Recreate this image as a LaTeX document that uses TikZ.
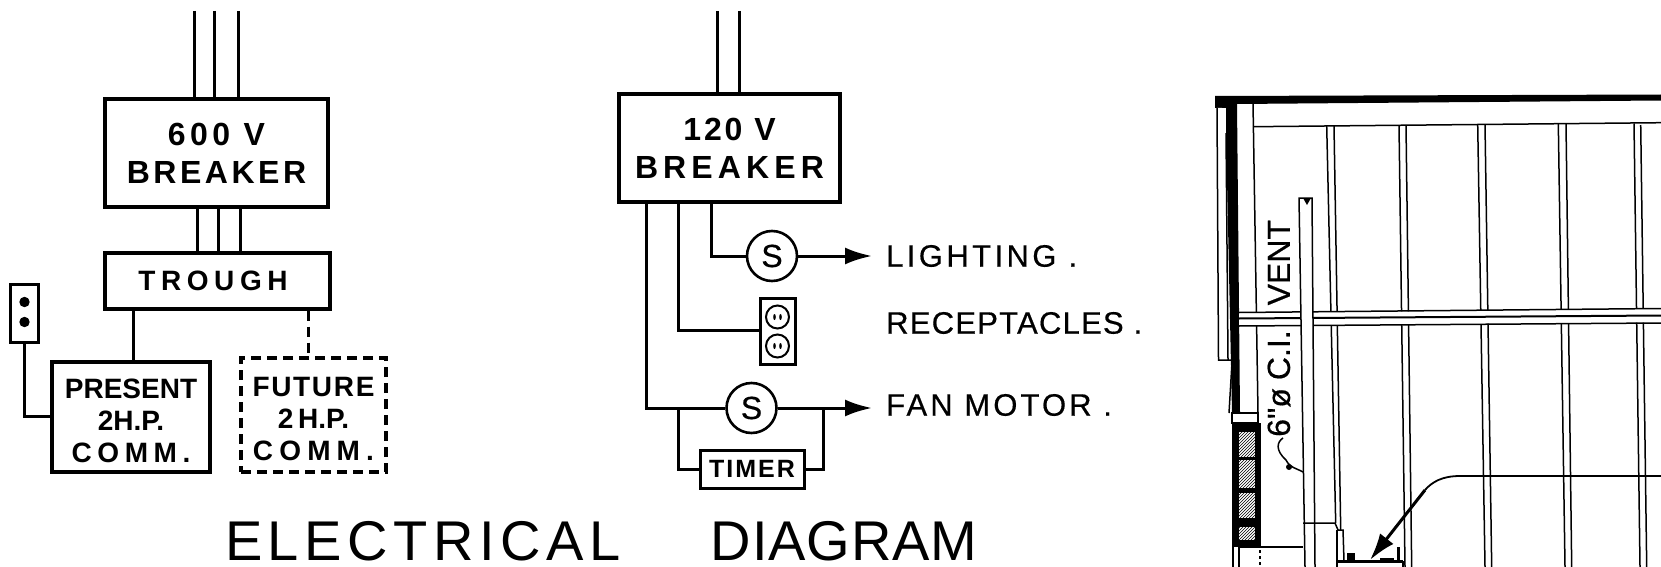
\documentclass[tikz,border=0pt]{standalone}
\usepackage{fontspec}
\usepackage{tikz}
\usetikzlibrary{positioning,arrows.meta,patterns}
\setmainfont{Liberation Sans}
\newfontfamily\tagfont[FakeBold=0.5]{Liberation Sans}
\newcommand{\ls}[2]{{\addfontfeature{LetterSpace=#1}#2}}
\tikzset{>={Latex[length=27pt,width=17pt]}}
\tikzset{
  wire/.style={line width=3pt},
  fine/.style={line width=1.5pt},
  breaker/.style={draw,line width=4.4pt,align=center,inner sep=0pt,font=\bfseries\fontsize{32}{38}\selectfont},
  unit/.style={draw,line width=3.4pt,align=center,inner sep=0pt,font=\bfseries\fontsize{28}{32}\selectfont},
  future/.style={unit,dash pattern=on 10pt off 6pt},
  switchs/.style={draw,circle,line width=2.6pt,minimum size=50pt,inner sep=0pt,font=\tagfont\fontsize{32}{38}\selectfont},
  outlet/.style={draw,circle,line width=2pt,minimum size=23pt,inner sep=0pt},
  tag/.style={inner sep=0pt,anchor=west,font=\tagfont\fontsize{31}{36}\selectfont},
  title/.style={inner sep=0pt,font=\fontsize{56}{60}\selectfont}
}

\begin{document}
\begin{tikzpicture}[x=1pt,y=-1pt]
  \useasboundingbox (0,0) rectangle (1661,567);

  % 600 V side
  \node[breaker,minimum width=223pt,minimum height=108pt] (bka) at (216.5,153)
    {\ls{14}{600 V}\hspace{8pt}\\\ls{11}{BREAKER}\hspace{4pt}};
  \node[unit,minimum width=225pt,minimum height=56pt] (trough) at (217.5,281) {\ls{20}{TROUGH}\hspace{9pt}};
  \node[unit,minimum width=158pt,minimum height=110pt] (present) at (131,417)
    {\rule{0pt}{27pt}PRESENT\\2H.P.\\\ls{20}{COMM.}};
  \node[future,minimum width=145pt,minimum height=114pt] (future) at (313.5,415)
    {\rule{0pt}{27pt}\ls{6}{FUTURE}\\2\,H.P.\\\ls{22}{COMM.}};
  \node[draw,line width=3pt,minimum width=28pt,minimum height=58pt,inner sep=0pt] (push) at (24.5,313) {};
  \fill (push.center) ++(0,-11) circle (5.2pt) (push.center) ++(0,9) circle (5.2pt);

  \foreach \xa/\xb/\n in {194/197/a,214/218/b,238/240/c} {
    \coordinate (in\n) at (\xa,11);
    \draw[wire] (in\n) -- (in\n |- bka.north);
    \coordinate (mid\n) at (\xb,207);
    \draw[wire] (mid\n) -- (mid\n |- trough.north);
  }

  \draw[wire] (trough.south -| 133,0) -- (present.north -| 133,0);
  \draw[wire,dash pattern=on 10pt off 6pt] (trough.south -| 308,0) -- (future.north -| 308,0);
  \draw[wire] (push.south) |- (present.west |- 0,416);

  % 120 V side
  \node[breaker,minimum width=221pt,minimum height=108pt] (bkb) at (729.5,148)
    {\ls{9}{120 V}\\\ls{16}{BREAKER}\hspace{4pt}};
  \node[switchs] (sa) at (772,256) {S};
  \node[switchs] (sb) at (751.5,408) {S};
  \node[draw,line width=3pt,minimum width=35pt,minimum height=66pt,inner sep=0pt] (recept) at (777.5,331) {};
  \node[outlet] (oa) at (777.5,317) {};
  \node[outlet] (ob) at (777.5,346) {};
  \foreach \o in {oa,ob} {
    \fill (\o.center) ++(-3,0) ellipse (1.3pt and 3pt);
    \fill (\o.center) ++(3,0) ellipse (1.3pt and 3pt);
  }
  \node[draw,line width=3pt,minimum width=104pt,minimum height=38pt,inner sep=0pt,
    font=\bfseries\fontsize{25}{28}\selectfont] (timer) at (752,469) {\ls{8}{TIMER}};

  \coordinate (tipa) at (872,256);
  \coordinate (tipb) at (872,408);
  \node[tag,right=14pt of tipa] (lighting) {\ls{11}{LIGHTING .}};
  \node[tag] (recepts) at (886,323) {\ls{4}{RECEPTACLES .}};
  \node[tag,right=14pt of tipb,yshift=3pt] (fan) {\ls{10}{FAN MOTOR .}};

  \coordinate (ina) at (717,11);
  \coordinate (inb) at (739,11);
  \draw[wire] (ina) -- (ina |- bkb.north);
  \draw[wire] (inb) -- (inb |- bkb.north);

  % Edges
  \draw[wire] (bkb.south -| 711,0) |- (sa.west);
  \draw[wire,->] (sa.east) -- (tipa);
  \draw[wire] (bkb.south -| 678,0) |- (recept.west |- 0,330);
  \draw[wire] (bkb.south -| 646,0) |- (sb.west);
  \draw[wire,->] (sb.east) -- (tipb);
  \draw[wire] (678,408) |- (timer.west);
  \draw[wire] (timer.east) -| (823,408);

  % Title
  \node[title] (elect) at (423,541.5) {\ls{10}{ELECTRICAL}};
  \node[title] (diag) at (844,541.5) {\ls{1.5}{DIAGRAM}};

  % Wall and window
  \fill[white] (1239,312.5) -- (1661,308.5) -- (1661,323) -- (1239,326) -- cycle;
  \fill (1215,96) -- (1661,94.5) -- (1661,100.5) -- (1237,104) -- (1240,413) -- (1232,413)
    -- (1226,133) -- (1226,108) -- (1215,108) -- cycle;
  \fill[white] (1217,108) -- (1222,108) -- (1224,133) -- (1218,133) -- cycle;
  \draw[fine] (1217,108) -- (1218.5,360) -- (1232,360);
  \draw[fine] (1226,133) -- (1228,360);
  \draw[fine] (1232,362) -- (1229,413) (1235,362) -- (1233,413);
  \draw[fine] (1253,103) -- (1258,413);
  \draw[fine] (1253,126.7) -- (1661,122.7);

  % Mullions
  \foreach \xt/\yt/\xb/\yb in {1326.7/126/1335.7/523, 1334/126/1340.7/530,
    1399/125.5/1405/567, 1406/125.5/1411.7/567, 1477.7/125/1485/567, 1485/125/1491.7/567,
    1558.3/124/1565/567, 1566/124/1571.7/567, 1634/123.5/1640/567, 1640.7/125/1646.7/567} {
    \draw[fine] (\xt,\yt) -- (\xb,\yb);
  }
  \fill[white] (1239,313) -- (1661,309) -- (1661,322.5) -- (1239,325.5) -- cycle;
  \draw[fine] (1239,312.5) -- (1661,308.5);
  \draw[line width=2pt] (1239,318.5) -- (1661,315.5);
  \draw[fine] (1239,326) -- (1661,323);

  % Vent pipe
  \fill[white] (1299,198) -- (1312,198) -- (1315,567) -- (1305,567) -- cycle;
  \draw[fine] (1305,567) -- (1299,198) -- (1312,198) -- (1315,567);
  \fill (1303,198) -- (1311,198) -- (1307,205) -- cycle;

  % Masonry
  \fill (1232,423) rectangle (1261,547);
  \foreach \ya/\yb in {432/457,460/488,493/518,527/540} {
    \fill[white] (1239,\ya) rectangle (1255,\yb);
    \fill[pattern=north east lines] (1239,\ya) rectangle (1255,\yb);
  }
  \draw[fine] (1232,413) rectangle (1258,423);
  \draw[fine] (1239,547) -- (1303,547);
  \draw[fine] (1233,547) -- (1233,567) (1239,547) -- (1239,567);
  \draw[fine,dashed] (1260,550) -- (1260,567);

  % Sill and fixture
  \draw[fine] (1303,523) -- (1335,523) -- (1338,530) -- (1343,530) -- (1344,561);
  \draw[fine] (1337,530) -- (1337,567);
  \draw[wire] (1337,561) -- (1403,561);
  \fill (1347,553) rectangle (1355,561);
  \draw[wire] (1398,547) -- (1398,560);
  \draw[wire] (1380,559) -- (1394,559);
  \draw[fine] (1403,561) -- (1403,567);

  % Leaders
  \coordinate (leadstart) at (1661,476);
  \coordinate (leadbend) at (1425,490);
  \coordinate (leadtip) at (1370,560);
  \draw[wire,line width=1.8pt] (leadstart) -- (1460,476) .. controls (1442,476) and (1432,482) .. (leadbend);
  \draw[wire,->] (leadbend) -- (leadtip);
  \draw[fine] (1303,472) .. controls (1296,468) and (1290,468) .. (1286,460)
    .. controls (1275,450) and (1277,442) .. (1283,438);
  \fill (1289,467) circle (3pt);

  \node[rotate=90,inner sep=0pt,anchor=west,font=\tagfont\fontsize{32}{36}\selectfont] (vent) at (1279,437)
    {6"ø\hspace{8pt}C.I.\hspace{25pt}VENT};
\end{tikzpicture}
\end{document}
